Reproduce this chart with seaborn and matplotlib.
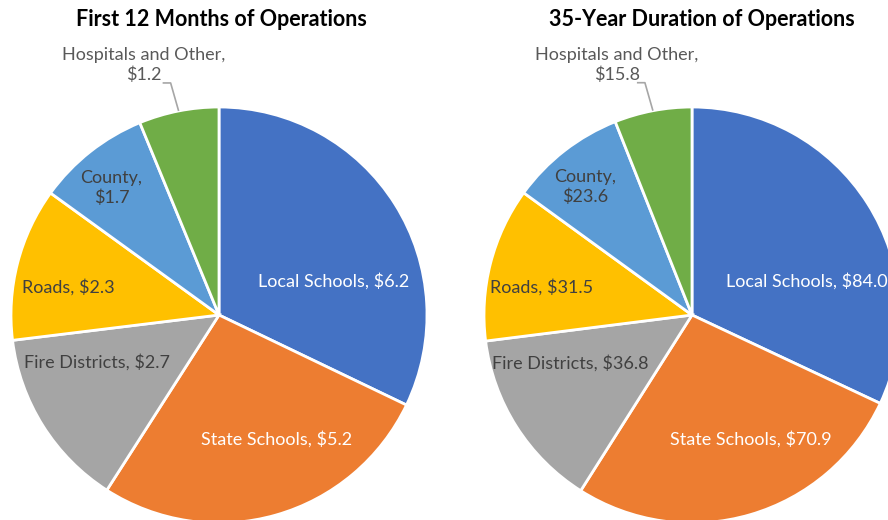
import numpy as np
import pandas as pd
import matplotlib
matplotlib.use("Agg")
import matplotlib.pyplot as plt
import seaborn as sns

# ---- data ----
categories = ["Local Schools", "State Schools", "Fire Districts", "Roads", "County", "Hospitals and Other"]
values_first12 = [6.2, 5.2, 2.7, 2.3, 1.7, 1.2]
values_35yr = [84.0, 70.9, 36.8, 31.5, 23.6, 15.8]
titles = ["First 12 Months of Operations", "35-Year Duration of Operations"]

df = pd.DataFrame({"category": categories, "first12": values_first12, "yr35": values_35yr})

# ---- style ----
sns.set_theme(style="white")
plt.rcParams["font.family"] = ["Lato", "DejaVu Sans"]
colors = sns.color_palette(["#4472C4", "#ED7D31", "#A5A5A5", "#FFC000", "#5B9BD5", "#70AD47"])
text_colors = ["white", "white", "#404040", "#404040", "#404040", "#595959"]
label_fmt = ["{c}, ${v:.1f}", "{c}, ${v:.1f}", "{c}, ${v:.1f}", "{c}, ${v:.1f}", "{c},\n${v:.1f}", "{c},\n${v:.1f}"]
# label placement in polar terms relative to each wedge (radius fraction, angle shift deg)
label_r = [0.575, 0.66, 0.63, 0.735, 0.80]
label_dang = [-16, 9, -11, 4, 2]

W, H = 888, 520
fig = plt.figure(figsize=(W / 100, H / 100), dpi=100)
ax = fig.add_axes([0, 0, 1, 1])

centers = [(219, 205), (692, 205)]
R = 208
title_x = [221.5, 702]

for k, col in enumerate(["first12", "yr35"]):
    vals = df[col].values
    cx, cy = centers[k]
    wedges, _ = ax.pie(vals, colors=colors, startangle=90, counterclock=False,
                       center=(cx, cy), radius=R,
                       wedgeprops=dict(edgecolor="white", linewidth=2))
    for i, w in enumerate(wedges):
        mid = np.deg2rad((w.theta1 + w.theta2) / 2)
        txt = label_fmt[i].format(c=categories[i], v=vals[i])
        if i < 5:
            ang = mid + np.deg2rad(label_dang[i])
            x = cx + label_r[i] * R * np.cos(ang)
            y = cy + label_r[i] * R * np.sin(ang)
            ax.text(x, y, txt, ha="center", va="center", fontsize=13,
                    color=text_colors[i], linespacing=1.25)
        else:
            ex = cx + R * np.cos(mid)
            ey = cy + R * np.sin(mid)
            tx = cx - 75
            ty = cy + 250
            ax.text(tx, ty, txt, ha="center", va="center", fontsize=13,
                    color=text_colors[i], linespacing=1.28)
            ax.plot([ex, ex - 8, ex - 16], [ey, ey + 28, ey + 28],
                    color="#a6a6a6", lw=1.2, solid_capstyle="butt")
    ax.text(title_x[k], H - 19.5, titles[k], ha="center", va="center",
            fontsize=15.5, fontweight="bold", color="black")

ax.set_xlim(0, W)
ax.set_ylim(0, H)
ax.set_aspect("auto")
ax.axis("off")

fig.savefig("out.png", dpi=100)
